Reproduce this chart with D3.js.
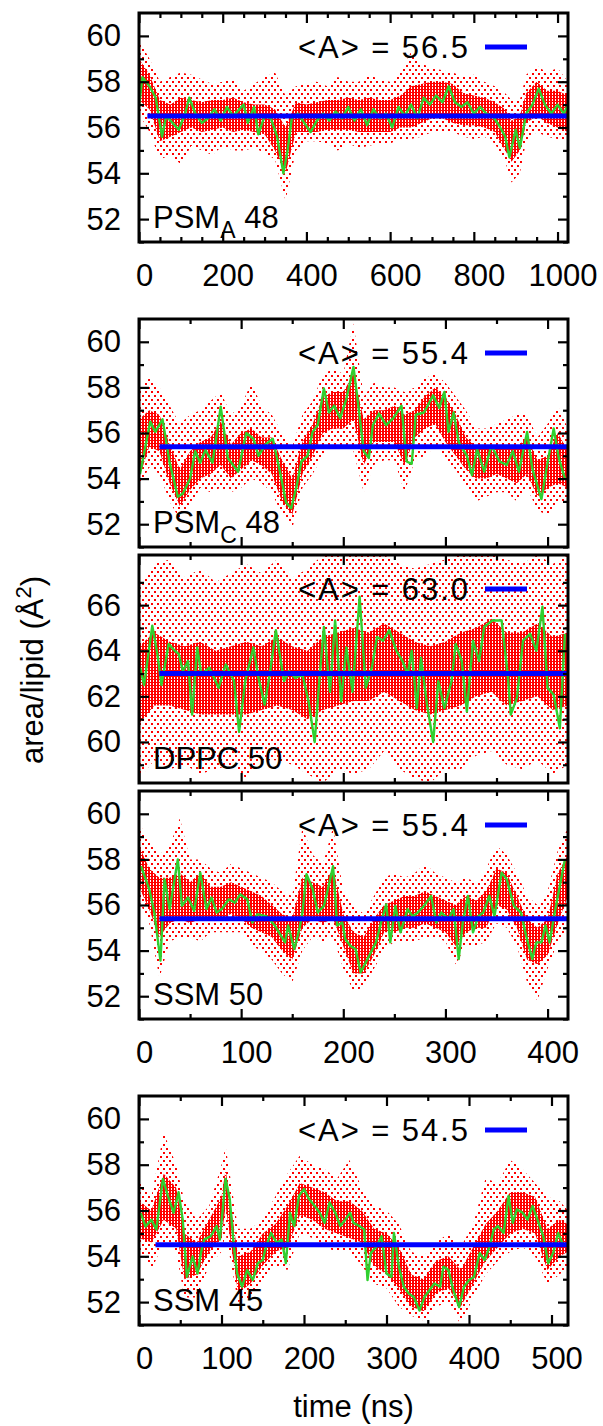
<!DOCTYPE html>
<html>
<head>
<meta charset="utf-8">
<script src="https://cdn.jsdelivr.net/npm/d3@7"></script>
<style>
  body { margin: 0; background: #fff; }
  svg { display: block; }
  text { font-family: "Liberation Sans", Arial, Helvetica, sans-serif; fill: #000; }
</style>
</head>
<body>
<div id="chart"></div>
<script>
// ---- data ----
// mean area per lipid for each system
const means = [56.5, 55.4, 63.0, 55.4, 54.5];
const systems = ["PSM", "PSM", "DPPC", "SSM", "SSM"];
const subscripts = ["A", "C", "", "", ""];
const nLipids = ["48", "48", "50", "50", "45"];
const timeMax = [1025, 420, 420, 420, 520];
const yDomains = [[51, 61], [51, 61], [58.2, 68.2], [51, 61], [51, 61]];
const yTickLabels = [[52, 54, 56, 58, 60], [52, 54, 56, 58, 60], [60, 62, 64, 66], [52, 54, 56, 58, 60], [52, 54, 56, 58, 60]];
const xTickLabels = [[0, 200, 400, 600, 800, 1000], null, null, [0, 100, 200, 300, 400], [0, 100, 200, 300, 400, 500]];

// running average (green): [time ns, area]
const psmA_green = [[0,56.9],[8,58.2],[25,57.8],[40,57.3],[55,55.6],[65,56.5],[80,56.2],[95,55.9],[110,56.6],[120,57.3],[135,56.6],[150,56.2],[165,56.4],[180,56.8],[195,56.3],[210,56.9],[225,56.5],[240,56.8],[250,57.0],[260,56.2],[275,56.9],[285,55.7],[300,56.5],[315,56.4],[330,55.6],[345,54.0],[355,55.0],[365,56.4],[380,56.6],[395,56.2],[410,55.8],[425,56.3],[440,56.6],[455,56.3],[470,56.7],[485,56.4],[500,56.9],[515,56.3],[530,56.8],[545,56.1],[560,56.8],[575,56.4],[590,56.6],[605,56.0],[620,56.9],[635,56.5],[650,57.0],[665,56.4],[680,57.3],[695,57.0],[710,57.4],[725,57.1],[740,57.8],[755,57.1],[770,56.9],[785,57.1],[800,56.6],[815,56.9],[830,56.6],[845,56.5],[860,56.1],[875,55.6],[885,54.7],[900,55.9],[910,55.1],[925,56.6],[940,57.0],[955,57.7],[970,57.0],[985,56.6],[1000,57.0],[1015,56.6],[1025,57.0]];
const psmC_green = [[1,54.2],[11,56.5],[16,56.05],[23,56.6],[30,54.7],[38,53.2],[43,53.35],[50,54.0],[55,55.2],[60,54.7],[65,55.25],[72,54.7],[80,57.15],[87,54.9],[97,54.3],[105,56.0],[112,55.75],[117,55.0],[124,55.5],[131,55.75],[138,54.3],[144,52.95],[149,52.7],[154,53.6],[159,54.75],[165,55.0],[170,56.05],[175,56.35],[181,57.95],[186,56.9],[191,57.2],[197,56.65],[203,57.5],[210,58.9],[215,57.1],[220,55.2],[225,54.9],[229,56.35],[235,56.85],[242,56.35],[249,56.65],[257,57.2],[262,54.75],[267,54.65],[271,56.8],[279,56.9],[288,57.65],[294,57.1],[299,57.8],[303,56.05],[308,56.9],[313,55.6],[321,55.0],[326,54.15],[331,55.3],[338,54.3],[345,55.45],[353,54.75],[360,54.6],[366,55.2],[372,54.3],[380,56.05],[385,54.45],[394,53.1],[399,54.45],[406,56.2],[411,54.9],[417,54.0]];
const dppc_green = [[1,63.26],[5,62.5],[13,65.1],[18,63.85],[22,62.5],[29,64.3],[35,64.0],[39,63.85],[43,63.1],[48,63.55],[52,61.2],[57,64.15],[61,62.96],[69,63.26],[78,62.37],[85,63.4],[93,62.67],[98,60.44],[104,62.67],[112,64.15],[117,62.8],[123,61.63],[128,62.96],[134,64.9],[142,62.67],[147,63.1],[153,62.8],[160,62.96],[166,61.78],[172,60.0],[177,62.96],[181,65.04],[187,62.2],[192,65.33],[198,61.78],[203,64.15],[209,62.2],[216,66.37],[222,62.37],[228,63.26],[233,64.6],[239,64.44],[245,64.9],[252,64.0],[258,63.55],[263,62.96],[267,64.0],[272,61.48],[276,63.7],[282,61.63],[288,60.0],[293,62.67],[299,61.48],[306,62.67],[310,64.3],[316,63.55],[321,61.33],[327,64.44],[333,63.55],[338,65.04],[346,65.33],[355,65.33],[361,62.96],[364,61.2],[370,61.93],[376,64.44],[383,64.74],[389,64.0],[395,65.93],[400,62.37],[406,62.07],[412,60.6],[417,64.74]];
const ssm50_green = [[2,57.7],[10,56.7],[15,55.67],[21,53.56],[25,57.13],[30,55.82],[38,58.0],[42,55.96],[48,56.33],[54,55.74],[60,57.42],[66,55.82],[71,56.33],[76,55.67],[81,55.82],[88,56.25],[94,56.1],[99,56.47],[106,56.25],[111,55.23],[116,55.6],[125,55.5],[133,55.1],[143,54.36],[146,55.1],[152,54.07],[157,54.94],[160,55.67],[164,57.35],[170,56.7],[175,55.67],[181,55.96],[185,56.7],[190,57.7],[194,55.1],[199,55.23],[202,54.5],[207,54.2],[212,54.07],[217,53.05],[222,53.48],[227,53.92],[232,54.36],[237,55.23],[242,56.03],[246,54.36],[251,55.96],[256,54.8],[263,55.82],[268,55.5],[273,55.67],[279,55.96],[286,56.4],[291,55.23],[296,55.67],[303,55.38],[308,55.82],[313,53.63],[317,55.23],[322,56.4],[327,54.8],[332,55.5],[337,55.67],[343,56.4],[348,55.5],[355,57.42],[360,57.13],[367,55.96],[374,55.67],[379,54.65],[385,53.63],[389,54.36],[394,54.36],[398,55.1],[402,54.36],[407,55.67],[412,56.84],[417,58.0]];
const ssm45_green = [[2,55.9],[8,55.3],[15,55.6],[21,55.17],[29,57.38],[35,56.64],[42,55.9],[48,56.8],[53,55.6],[58,53.1],[65,53.99],[71,53.25],[75,54.14],[79,54.73],[87,54.88],[94,55.32],[98,54.73],[105,57.38],[110,56.5],[115,54.43],[119,53.25],[125,52.67],[131,53.4],[138,52.96],[144,53.7],[150,53.84],[154,54.43],[160,55.02],[167,54.58],[173,54.73],[178,53.7],[183,55.9],[188,55.32],[194,56.64],[200,56.94],[206,56.5],[213,56.2],[219,55.9],[225,55.46],[231,56.35],[238,55.9],[244,55.32],[250,55.6],[256,55.9],[260,55.46],[267,55.32],[273,55.17],[277,52.96],[281,54.14],[288,54.43],[294,54.88],[300,53.25],[306,53.1],[309,55.02],[315,53.55],[321,52.67],[327,52.37],[333,52.22],[340,51.63],[346,52.22],[352,52.52],[358,52.81],[365,52.67],[369,53.55],[375,53.4],[381,52.52],[388,51.78],[394,52.67],[400,52.96],[406,53.1],[413,54.14],[419,53.84],[425,54.43],[430,55.17],[435,55.32],[442,55.02],[448,56.64],[453,55.46],[458,56.05],[465,55.9],[471,55.6],[477,56.2],[483,55.6],[490,54.88],[496,53.7],[502,54.14],[508,55.02],[515,54.43]];

// raw-sample cloud (red): [time ns, sparse low, dense low, dense high, sparse high]
const psmA_cloud = [[0,56.6,57.2,59.0,59.8],[25,55.8,56.8,58.3,59.0],[50,54.6,55.4,57.2,58.0],[75,54.8,55.6,57.0,58.2],[100,54.4,55.8,57.3,58.4],[125,55.2,56.0,57.2,58.3],[150,55.0,55.8,57.1,58.1],[175,54.8,55.9,57.2,57.9],[200,55.2,56.0,57.2,58.0],[225,55.0,55.8,57.3,58.1],[250,55.0,55.9,57.1,57.6],[275,55.1,55.8,57.0,57.9],[300,54.9,55.7,57.0,58.2],[325,54.6,55.0,56.8,58.4],[350,52.8,54.0,56.0,57.4],[375,55.0,55.8,57.1,57.8],[400,55.4,55.8,57.0,57.9],[425,55.4,55.8,57.1,58.0],[450,55.3,55.9,57.2,57.8],[475,55.0,55.9,57.2,58.2],[500,55.3,55.9,57.3,58.0],[525,55.1,55.8,57.2,58.0],[550,55.2,55.8,57.3,58.3],[575,55.3,55.8,57.2,58.1],[600,55.3,55.8,57.2,58.0],[625,55.5,56.0,57.4,58.4],[650,55.5,56.0,57.8,59.3],[675,55.6,56.2,57.9,58.8],[700,55.8,56.4,58.0,58.6],[725,55.8,56.4,58.0,58.5],[750,55.8,56.2,57.9,58.4],[775,55.6,56.1,57.5,58.2],[800,55.5,56.1,57.4,58.3],[825,55.6,56.0,57.3,58.0],[850,55.3,55.8,57.1,57.8],[875,54.5,55.0,56.8,57.5],[890,53.6,54.5,56.3,57.2],[910,54.0,55.0,56.5,57.2],[925,55.4,56.2,57.5,58.3],[950,55.8,56.5,58.0,58.7],[975,55.6,56.2,57.6,58.4],[1000,55.5,56.0,57.6,58.6],[1025,55.4,55.8,57.4,58.0]];
const psmC_cloud = [[0,53.6,54.0,56.6,58.0],[10,54.5,55.4,57.0,58.4],[20,54.2,55.2,56.8,58.0],[30,53.0,53.8,55.5,57.2],[40,52.2,52.8,54.4,56.4],[50,52.8,53.5,55.2,56.8],[60,53.6,54.0,55.6,57.0],[70,53.4,54.2,55.8,57.4],[80,53.6,54.6,56.5,57.8],[90,53.4,54.0,55.5,56.8],[100,53.6,54.4,56.0,57.2],[110,54.0,54.8,56.2,58.2],[120,53.8,54.6,55.8,57.2],[130,53.4,54.2,55.8,56.8],[140,52.4,53.0,54.8,56.0],[150,51.8,52.4,54.0,55.4],[160,53.6,54.2,55.6,56.8],[170,54.2,55.0,56.4,57.4],[180,55.0,56.0,57.6,58.6],[190,55.4,56.2,57.8,58.8],[200,55.4,56.2,57.8,58.6],[210,55.2,56.6,58.6,60.8],[220,53.4,54.6,56.6,57.6],[230,54.6,55.6,57.0,58.2],[240,54.8,55.6,57.0,58.0],[250,54.8,55.6,57.2,58.0],[260,53.4,54.6,56.8,57.8],[270,54.8,55.8,57.0,58.0],[280,55.0,56.2,57.6,58.4],[290,55.4,56.4,58.0,58.6],[300,54.8,55.6,57.6,58.2],[310,54.4,55.0,56.8,57.6],[320,53.6,54.4,55.8,57.0],[330,53.0,54.0,55.4,56.2],[340,53.2,54.0,55.4,56.2],[350,53.4,54.2,55.4,56.4],[360,53.4,54.0,55.4,56.6],[370,53.0,53.8,55.4,56.8],[380,53.6,54.2,55.8,56.8],[390,52.6,53.2,54.8,55.8],[400,52.4,53.6,55.0,56.4],[410,53.0,53.8,56.0,57.2],[420,53.0,53.6,55.2,56.2]];
const dppc_cloud = [[0,58.4,60.8,64.2,66.8],[15,59.2,61.6,64.8,67.8],[30,58.8,61.6,64.4,68.0],[45,59.0,61.4,64.2,67.2],[60,58.6,61.2,64.4,67.6],[75,58.8,61.2,64.0,67.0],[90,59.0,61.2,64.2,67.4],[105,58.4,61.2,64.4,67.8],[120,59.2,61.4,64.2,67.4],[135,59.2,61.6,64.6,68.0],[150,59.0,61.4,64.2,67.2],[165,58.6,61.0,64.0,67.6],[180,58.2,61.4,64.6,68.2],[195,58.8,61.6,64.8,68.2],[210,58.6,61.8,65.0,68.2],[225,58.8,61.8,64.8,68.2],[240,59.6,62.2,65.2,68.2],[255,58.8,61.8,64.8,67.8],[270,58.4,61.4,64.4,67.6],[285,58.2,61.2,64.2,67.8],[300,58.8,61.4,64.4,68.0],[315,58.8,61.6,64.8,68.2],[330,59.4,62.0,65.0,68.2],[345,59.6,62.2,65.4,68.2],[360,59.0,61.6,64.8,68.0],[375,58.8,61.8,64.8,67.8],[390,59.2,62.0,65.2,68.2],[405,58.6,61.4,64.6,67.8],[420,59.0,61.6,64.8,68.2]];
const ssm50_cloud = [[0,56.2,56.8,58.6,59.6],[10,55.2,55.8,57.6,58.8],[20,52.8,54.6,57.2,58.2],[30,54.4,55.2,57.2,58.6],[40,54.6,55.4,57.4,59.8],[50,54.6,55.2,57.0,58.0],[60,54.4,55.4,57.4,58.0],[70,54.8,55.4,56.8,57.6],[80,54.8,55.4,56.8,57.4],[90,54.8,55.6,57.0,57.8],[100,54.8,55.4,56.8,57.6],[110,54.2,55.0,56.6,57.4],[120,54.0,54.8,56.4,57.2],[130,53.6,54.6,56.0,57.0],[140,53.0,54.0,55.6,56.6],[150,52.6,53.6,55.4,56.4],[160,54.0,55.0,57.2,59.4],[170,54.6,55.4,57.0,58.2],[180,54.4,55.2,56.8,57.8],[190,54.6,55.4,57.6,59.4],[200,53.2,54.2,55.6,56.6],[210,52.2,53.0,54.8,56.0],[220,52.4,53.0,54.6,55.6],[230,53.2,53.8,55.4,56.4],[240,54.0,54.8,56.0,57.2],[250,54.4,54.8,56.2,57.4],[260,54.4,55.0,56.4,57.2],[270,54.4,55.0,56.4,57.4],[280,54.6,55.2,56.6,57.8],[290,54.6,55.0,56.4,57.4],[300,54.4,54.8,56.2,57.2],[310,53.4,54.2,56.0,57.0],[320,54.2,54.8,56.4,57.2],[330,54.2,55.0,56.2,57.0],[340,54.4,55.0,56.6,57.6],[350,55.2,56.0,57.6,58.6],[360,55.0,55.8,57.4,58.2],[370,54.2,55.0,56.4,57.4],[380,52.6,53.6,55.4,56.4],[390,51.8,53.4,55.0,56.0],[400,53.2,53.8,55.4,56.6],[410,54.4,55.2,57.4,58.4],[420,55.0,56.4,58.2,59.4]];
const ssm45_cloud = [[0,54.2,54.8,56.4,57.4],[15,53.4,54.6,56.0,56.6],[30,54.6,55.6,57.6,59.4],[45,54.2,55.2,57.0,58.0],[55,52.2,53.0,55.0,56.4],[70,52.2,53.2,54.6,55.6],[85,53.6,54.2,55.6,56.2],[100,54.2,54.8,56.6,58.0],[105,55.0,56.2,57.8,58.8],[120,52.0,52.4,54.0,55.2],[135,52.2,52.8,54.2,55.2],[150,53.0,53.6,55.0,55.6],[165,53.6,54.2,55.4,56.6],[180,53.4,54.4,56.2,57.6],[195,55.0,55.8,57.2,58.4],[210,54.8,55.6,57.0,58.0],[225,54.4,55.2,56.8,57.8],[240,54.2,55.0,56.4,57.4],[255,54.2,54.8,56.4,58.2],[270,53.6,54.6,56.0,57.0],[285,52.8,53.6,55.2,56.2],[300,52.6,53.2,55.0,56.0],[315,51.8,52.6,54.4,55.4],[330,51.4,51.8,53.2,54.2],[345,51.2,51.6,53.0,54.0],[360,51.8,52.4,53.8,54.6],[375,52.0,52.6,54.0,55.0],[390,51.0,51.8,53.4,54.4],[405,52.2,52.8,54.4,55.4],[420,53.2,53.8,55.4,57.4],[435,53.8,54.4,56.0,57.2],[450,54.2,55.0,56.8,58.2],[465,54.4,55.2,56.8,57.8],[480,54.0,55.0,56.6,57.2],[495,52.8,53.4,55.2,56.6],[510,53.2,54.0,55.6,56.4],[520,53.6,54.2,55.4,56.0]];

const greens = [psmA_green, psmC_green, dppc_green, ssm50_green, ssm45_green];
const clouds = [psmA_cloud, psmC_cloud, dppc_cloud, ssm50_cloud, ssm45_cloud];
const meanStart = 20; // ns, where the mean line begins

// ---- layout ----
const W = 603, H = 1426;
const frameL = 139, frameR = 568;
const panelBox = [[13, 242], [319, 547], [555, 783], [791, 1019], [1096, 1325]];
const FS = 31;

const svg = d3.select("#chart").append("svg").attr("width", W).attr("height", H);
const defs = svg.append("defs");

// dot textures for the raw samples (whole pixels so the red survives)
function dotPattern(id, cw, ch, dots) {
  const p = defs.append("pattern").attr("id", id)
    .attr("patternUnits", "userSpaceOnUse").attr("width", cw).attr("height", ch);
  dots.forEach(function(r) {
    p.append("rect").attr("x", r[0]).attr("y", r[1]).attr("width", r[2]).attr("height", r[3])
      .attr("fill", "#ff0000").attr("shape-rendering", "crispEdges");
  });
}
dotPattern("dense", 3, 3, [[0, 0, 2, 3], [2, 1, 1, 1]]);
dotPattern("sparse", 6, 8, [[0, 0, 2, 2], [3, 4, 2, 2]]);

function range(a, b, s) { return d3.range(a, b + 1e-9, s); }

panelBox.forEach(function(box, i) {
  const top = box[0], bottom = box[1];
  const w = frameR - frameL, h = bottom - top;
  const g = svg.append("g").attr("transform", "translate(" + frameL + "," + top + ")");

  const x = d3.scaleLinear().domain([0, timeMax[i]]).range([0, w]);
  const y = d3.scaleLinear().domain(yDomains[i]).range([h, 0]);

  defs.append("clipPath").attr("id", "clip" + i)
    .append("rect").attr("width", w).attr("height", h);
  const plot = g.append("g").attr("clip-path", "url(#clip" + i + ")");

  // red raw samples: sparse outer envelope, dense core
  plot.append("path").datum(clouds[i])
    .attr("fill", "url(#sparse)")
    .attr("d", d3.area().x(d => x(d[0])).y0(d => y(d[1])).y1(d => y(d[4])));
  plot.append("path").datum(clouds[i])
    .attr("fill", "url(#dense)")
    .attr("d", d3.area().x(d => x(d[0])).y0(d => y(d[2])).y1(d => y(d[3])));

  // green running average
  plot.append("path").datum(greens[i])
    .attr("fill", "none")
    .attr("stroke", "#2fd02f")
    .attr("stroke-width", 2.4)
    .attr("stroke-linejoin", "round")
    .attr("d", d3.line().x(d => x(d[0])).y(d => y(d[1])));

  // blue mean
  plot.append("line")
    .attr("x1", x(meanStart)).attr("x2", x(timeMax[i]))
    .attr("y1", y(means[i])).attr("y2", y(means[i]))
    .attr("stroke", "#0000ff").attr("stroke-width", 5);

  // legend
  g.append("text").attr("x", 159).attr("y", 45)
    .attr("font-size", FS)
    .attr("textLength", 170).attr("lengthAdjust", "spacing")
    .text("<A> = " + means[i].toFixed(1));
  g.append("line").attr("x1", 346).attr("x2", 388).attr("y1", 34).attr("y2", 34)
    .attr("stroke", "#0000ff").attr("stroke-width", 5);

  // system label
  const lab = g.append("text").attr("x", 14).attr("y", h - 14).attr("font-size", FS);
  lab.append("tspan").text(systems[i]);
  if (subscripts[i]) {
    lab.append("tspan").attr("font-size", 23).attr("dy", 10).text(subscripts[i]);
    lab.append("tspan").attr("dy", -10).text(" " + nLipids[i]);
  } else {
    lab.append("tspan").text(" " + nLipids[i]);
  }

  // axes, ticks pointing inward on all four sides
  const yd = yDomains[i];
  const yMajor = yTickLabels[i];
  const yMinor = range(Math.ceil(yd[0]), Math.floor(yd[1]), 1).filter(v => !yMajor.includes(v) && v < yd[1] - 0.5);
  const xMajorStep = i === 0 ? 200 : 100;
  const xMajor = range(0, timeMax[i], xMajorStep);
  const xMinor = range(0, timeMax[i], 50).filter(v => v % xMajorStep !== 0);

  function style(sel) {
    sel.select(".domain").remove();
    sel.selectAll(".tick line").attr("stroke", "#000").attr("stroke-width", 2.2);
    sel.attr("font-size", FS).attr("font-family", '"Liberation Sans", Arial, sans-serif');
    sel.selectAll(".tick text").attr("fill", "#000");
  }

  g.append("g").call(d3.axisLeft(y).tickValues(yMajor).tickSize(-10).tickPadding(18).tickFormat(d3.format("d"))).call(style);
  g.append("g").call(d3.axisLeft(y).tickValues(yMinor).tickSize(-5).tickFormat("")).call(style);
  g.append("g").attr("transform", "translate(" + w + ",0)")
    .call(d3.axisRight(y).tickValues(yMajor).tickSize(-10).tickFormat("")).call(style);
  g.append("g").attr("transform", "translate(" + w + ",0)")
    .call(d3.axisRight(y).tickValues(yMinor).tickSize(-5).tickFormat("")).call(style);

  const bottomAxis = d3.axisBottom(x).tickValues(xMajor).tickSize(-10).tickPadding(22);
  if (xTickLabels[i]) bottomAxis.tickFormat(d => xTickLabels[i].includes(d) ? d3.format("d")(d) : "");
  else bottomAxis.tickFormat("");
  const bx = g.append("g").attr("transform", "translate(0," + h + ")").call(bottomAxis).call(style);
  bx.selectAll(".tick text").attr("dx", 5);
  g.append("g").attr("transform", "translate(0," + h + ")")
    .call(d3.axisBottom(x).tickValues(xMinor).tickSize(-5).tickFormat("")).call(style);
  g.append("g").call(d3.axisTop(x).tickValues(xMajor).tickSize(-10).tickFormat("")).call(style);
  g.append("g").call(d3.axisTop(x).tickValues(xMinor).tickSize(-5).tickFormat("")).call(style);

  // frame
  g.append("rect").attr("width", w).attr("height", h)
    .attr("fill", "none").attr("stroke", "#000").attr("stroke-width", 3);
});

// axis titles
const yTitle = svg.append("text")
  .attr("transform", "translate(43,670) rotate(-90)")
  .attr("text-anchor", "middle").attr("font-size", FS);
yTitle.append("tspan").text("area/lipid (Å");
yTitle.append("tspan").attr("font-size", 22).attr("dy", -12).text("2");
yTitle.append("tspan").attr("dy", 12).text(")");

svg.append("text").attr("x", (frameL + frameR) / 2).attr("y", 1417)
  .attr("text-anchor", "middle").attr("font-size", FS).text("time (ns)");
</script>
</body>
</html>
